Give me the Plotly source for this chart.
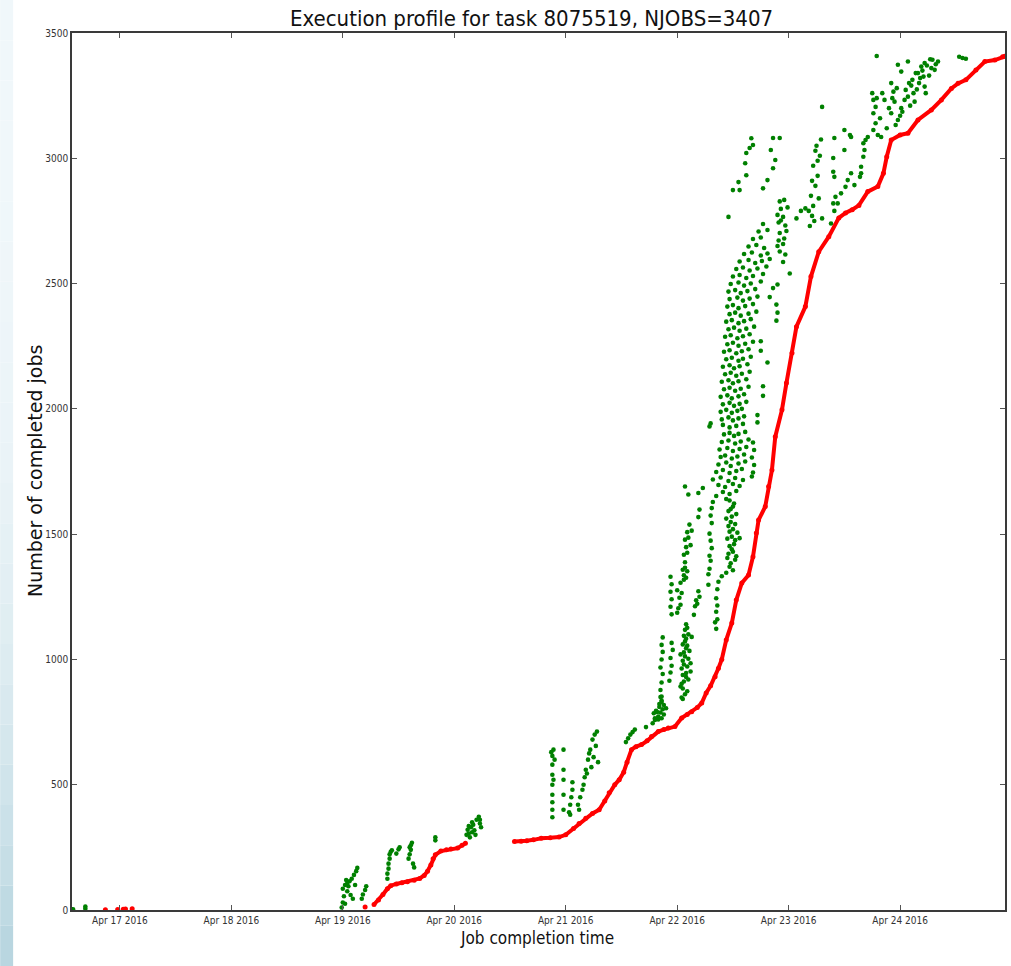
import pandas as pd
import plotly.graph_objects as go

# ---- data: day-of-April (fractional) and job counts ----
# completion profile (red): cumulative number of completed jobs
red_early_day = [16.87, 16.98, 17.03, 17.05, 17.11]
red_early_jobs = [1, 2, 3, 4, 5]

red_first_day = [19.20]
red_first_jobs = [12]

red_mid_day = [19.28, 19.32, 19.36, 19.40, 19.43, 19.48, 19.53, 19.58, 19.64, 19.69,
               19.73, 19.76, 19.79, 19.81, 19.83, 19.88, 19.93, 19.97, 20.03, 20.07, 20.10]
red_mid_jobs = [22, 40, 62, 85, 97, 104, 109, 113, 119, 126,
                138, 155, 180, 205, 220, 235, 240, 243, 247, 258, 266]

red_main_day = [20.54, 20.60, 20.65, 20.71, 20.78, 20.86, 20.94, 21.00, 21.07, 21.12,
                21.18, 21.24, 21.30, 21.35, 21.39, 21.44, 21.48, 21.52, 21.55, 21.59,
                21.63, 21.68, 21.73, 21.77, 21.83, 21.88, 21.92, 21.98, 22.04, 22.09,
                22.13, 22.18, 22.22, 22.26, 22.30, 22.34, 22.37, 22.40, 22.44, 22.49,
                22.53, 22.58, 22.64, 22.68, 22.71, 22.73, 22.79, 22.82, 22.85, 22.88,
                22.94, 22.98, 23.03, 23.07, 23.15, 23.20, 23.27, 23.36, 23.45, 23.51,
                23.57, 23.63, 23.71, 23.80, 23.85, 23.88, 23.92, 24.00, 24.07, 24.16,
                24.28, 24.37, 24.46, 24.52, 24.59, 24.68, 24.76, 24.85, 24.92, 24.94]
red_main_jobs = [273, 274, 276, 280, 286, 288, 291, 300, 325, 345,
                 366, 385, 400, 435, 468, 500, 520, 550, 590, 640,
                 652, 660, 675, 692, 712, 720, 726, 732, 766, 780,
                 791, 808, 826, 866, 895, 931, 965, 1000, 1078, 1145,
                 1237, 1305, 1337, 1410, 1505, 1556, 1610, 1690, 1756, 1889,
                 1996, 2103, 2223, 2328, 2408, 2528, 2627, 2687, 2762, 2782,
                 2795, 2812, 2867, 2887, 2940, 3006, 3073, 3093, 3100, 3153,
                 3193, 3233, 3279, 3299, 3313, 3352, 3386, 3392, 3405, 3407]

# job start points (green): (day, job number)
green_apr16 = [(16.58, 3), (16.69, 6), (16.69, 14)]

green_apr19 = [
    (18.99, 10), (19.00, 30), (19.01, 55), (19.00, 85), (19.02, 100), (19.04, 108),
    (19.06, 115), (19.03, 120), (19.05, 95), (19.08, 125), (19.10, 140), (19.12, 155),
    (19.13, 168), (19.07, 60), (19.09, 45), (19.04, 75), (19.11, 100), (19.02, 25),
    (19.17, 45), (19.18, 62), (19.20, 80), (19.21, 95),
    (19.40, 125), (19.40, 145), (19.41, 165), (19.41, 185), (19.42, 205), (19.42, 222),
    (19.43, 232), (19.44, 238), (19.48, 225), (19.50, 242), (19.51, 250), (19.59, 205),
    (19.60, 222), (19.61, 240), (19.61, 258), (19.62, 268), (19.63, 185), (19.64, 170),
    (19.60, 250), (19.83, 278), (19.83, 290),
]

green_apr20 = [
    (20.11, 300), (20.12, 320), (20.13, 305), (20.14, 290), (20.15, 330), (20.16, 350),
    (20.17, 340), (20.18, 318), (20.19, 300), (20.20, 360), (20.22, 372), (20.23, 345),
    (20.24, 330), (20.23, 360), (20.13, 335), (20.16, 310),
    (20.88, 370), (20.88, 400), (20.88, 430), (20.88, 460), (20.88, 500), (20.88, 540),
    (20.88, 580), (20.88, 615), (20.89, 640), (20.90, 600), (20.89, 520), (20.87, 630),
    (20.98, 400), (20.98, 460), (20.98, 520), (20.98, 560), (20.98, 640),
]

green_apr21 = [
    (21.03, 390), (21.04, 420), (21.05, 450), (21.06, 480), (21.06, 510), (21.04, 380),
    (21.11, 420), (21.13, 450), (21.15, 480), (21.16, 500), (21.17, 530), (21.19, 545),
    (21.12, 400), (21.18, 560), (21.20, 600), (21.22, 640), (21.24, 680), (21.26, 700),
    (21.23, 570), (21.25, 610), (21.27, 655), (21.28, 712), (21.21, 625), (21.29, 590),
    (21.54, 670), (21.56, 685), (21.58, 700), (21.60, 710), (21.62, 720), (21.72, 730),
    (21.78, 745), (21.80, 765), (21.82, 790), (21.84, 810), (21.86, 830), (21.88, 780),
    (21.90, 805), (21.83, 760), (21.79, 785), (21.85, 850),
]

green_apr22_low = [
    (21.80, 758), (21.83, 772), (21.86, 765), (21.81, 795), (21.85, 788), (21.87, 801),
    (21.84, 822), (21.88, 818), (21.86, 836), (21.86, 852), (22.04, 848), (22.07, 861),
    (22.05, 842), (21.85, 878), (22.05, 884), (22.09, 873), (22.03, 892),
    (21.86, 908), (21.93, 915), (22.04, 903), (22.06, 912), (22.10, 920), (22.08, 930),
    (21.87, 942), (21.94, 948), (22.05, 938), (22.08, 946), (22.12, 952),
    (21.85, 968), (21.95, 975), (22.04, 964), (22.06, 980), (22.09, 972), (22.12, 985),
    (21.86, 1000), (21.94, 1006), (22.05, 995), (22.07, 1012), (22.10, 1003), (22.03, 1020),
    (21.87, 1030), (21.96, 1038), (22.06, 1028), (22.08, 1045), (22.11, 1034),
    (21.86, 1058), (21.95, 1066), (22.05, 1060), (22.07, 1072), (22.09, 1055),
    (21.87, 1088), (22.06, 1094), (22.08, 1083), (22.10, 1100), (22.13, 1090),
    (22.07, 1118), (22.09, 1126), (22.35, 1122), (22.34, 1148), (22.36, 1160), (22.08, 1140),
    (21.95, 1180), (22.00, 1186), (22.15, 1178), (22.35, 1190),
    (21.94, 1210), (22.01, 1204), (22.03, 1218), (22.16, 1212), (22.18, 1222), (22.36, 1215),
    (21.95, 1240), (22.02, 1246), (22.17, 1236), (22.20, 1250), (22.35, 1244),
    (21.94, 1270), (22.00, 1276), (22.04, 1265), (22.19, 1272), (22.36, 1280),
    (21.95, 1300), (22.03, 1306), (22.28, 1298), (22.37, 1310), (22.06, 1318),
    (21.94, 1330), (22.06, 1336), (22.08, 1326), (22.28, 1340), (22.40, 1332), (22.44, 1346),
    (22.05, 1358), (22.07, 1366), (22.09, 1352), (22.29, 1362), (22.47, 1370), (22.50, 1356),
    (22.07, 1388), (22.30, 1394), (22.48, 1384), (22.52, 1398), (22.45, 1405),
    (22.06, 1418), (22.09, 1426), (22.29, 1414), (22.46, 1422), (22.50, 1430), (22.53, 1412),
    (22.08, 1448), (22.12, 1456), (22.31, 1444), (22.47, 1452), (22.51, 1460), (22.49, 1440),
    (22.07, 1478), (22.10, 1486), (22.30, 1474), (22.45, 1482), (22.49, 1490), (22.52, 1476),
    (22.56, 1484), (22.09, 1508), (22.13, 1514), (22.29, 1502), (22.47, 1510), (22.50, 1520),
    (22.54, 1506), (22.11, 1538), (22.31, 1544), (22.46, 1532), (22.48, 1548), (22.52, 1540),
    (22.19, 1568), (22.30, 1574), (22.44, 1562), (22.49, 1570), (22.53, 1580),
    (22.20, 1598), (22.31, 1604), (22.46, 1592), (22.50, 1610), (22.48, 1600),
    (22.32, 1628), (22.47, 1634), (22.51, 1622), (22.44, 1640),
]

green_apr22_high = [
    (22.10, 1658), (22.19, 1664), (22.35, 1652), (22.41, 1668), (22.47, 1660), (22.53, 1672),
    (22.07, 1690), (22.23, 1684), (22.37, 1696), (22.43, 1688), (22.50, 1700), (22.56, 1692),
    (22.32, 1718), (22.39, 1726), (22.46, 1712), (22.52, 1724), (22.59, 1716), (22.67, 1730),
    (22.35, 1748), (22.41, 1756), (22.47, 1744), (22.53, 1752), (22.58, 1760), (22.68, 1746),
    (22.37, 1778), (22.44, 1786), (22.48, 1772), (22.55, 1782), (22.61, 1790), (22.69, 1776),
    (22.39, 1808), (22.43, 1814), (22.49, 1802), (22.54, 1810), (22.60, 1818), (22.67, 1806),
    (22.38, 1838), (22.45, 1844), (22.50, 1832), (22.56, 1840), (22.62, 1848), (22.69, 1836),
    (22.40, 1868), (22.46, 1874), (22.52, 1862), (22.57, 1870), (22.64, 1878), (22.68, 1866),
    (22.42, 1898), (22.47, 1904), (22.51, 1892), (22.55, 1900), (22.61, 1908),
    (22.29, 1930), (22.41, 1936), (22.47, 1926), (22.53, 1932), (22.59, 1940), (22.72, 1946),
    (22.30, 1942), (22.40, 1958), (22.46, 1966), (22.50, 1954), (22.55, 1962), (22.60, 1970),
    (22.72, 1975), (22.39, 1988), (22.44, 1996), (22.49, 1984), (22.54, 1992), (22.58, 2000),
    (22.41, 2018), (22.47, 2024), (22.51, 2012), (22.56, 2020), (22.62, 2028),
    (22.39, 2048), (22.45, 2054), (22.49, 2042), (22.55, 2050), (22.60, 2058), (22.77, 2052),
    (22.42, 2078), (22.47, 2084), (22.52, 2072), (22.57, 2080), (22.64, 2088), (22.77, 2090),
    (22.40, 2108), (22.46, 2114), (22.50, 2102), (22.55, 2110), (22.62, 2118),
    (22.43, 2138), (22.48, 2144), (22.53, 2132), (22.58, 2140), (22.65, 2148),
    (22.41, 2168), (22.47, 2174), (22.51, 2162), (22.56, 2170), (22.63, 2178), (22.81, 2185),
    (22.44, 2198), (22.49, 2204), (22.55, 2192), (22.59, 2200), (22.66, 2208),
    (22.42, 2228), (22.47, 2234), (22.53, 2222), (22.58, 2230), (22.64, 2238), (22.75, 2232),
    (22.45, 2258), (22.50, 2264), (22.55, 2252), (22.61, 2260), (22.68, 2268), (22.75, 2270),
    (22.43, 2288), (22.48, 2294), (22.54, 2282), (22.59, 2290), (22.65, 2298),
    (22.46, 2318), (22.51, 2324), (22.56, 2312), (22.62, 2320), (22.69, 2328),
    (22.44, 2348), (22.49, 2354), (22.55, 2342), (22.60, 2350), (22.66, 2358), (22.89, 2352),
    (22.47, 2378), (22.52, 2384), (22.57, 2372), (22.64, 2380), (22.71, 2388), (22.90, 2384),
    (22.45, 2408), (22.50, 2414), (22.55, 2402), (22.61, 2410), (22.68, 2418), (22.89, 2416),
    (22.47, 2438), (22.54, 2444), (22.59, 2432), (22.65, 2440), (22.72, 2448), (22.83, 2446),
    (22.46, 2468), (22.52, 2474), (22.57, 2462), (22.63, 2470), (22.70, 2478), (22.86, 2482),
    (22.48, 2498), (22.55, 2504), (22.60, 2492), (22.66, 2500), (22.75, 2508), (22.90, 2496),
    (22.50, 2528), (22.56, 2534), (22.62, 2522), (22.68, 2530), (22.77, 2538), (23.01, 2540),
    (22.53, 2558), (22.59, 2564), (22.65, 2552), (22.72, 2560), (22.80, 2568),
    (22.56, 2588), (22.64, 2594), (22.70, 2582), (22.76, 2590), (22.83, 2598), (22.95, 2586),
    (22.60, 2618), (22.67, 2624), (22.75, 2612), (22.81, 2620), (22.92, 2628), (22.97, 2616),
    (22.64, 2648), (22.71, 2654), (22.78, 2642), (22.90, 2650), (22.95, 2658),
    (22.68, 2678), (22.75, 2684), (22.91, 2672), (22.96, 2680),
    (22.73, 2708), (22.81, 2714), (22.92, 2702), (22.98, 2710),
    (22.77, 2738), (22.91, 2744), (22.97, 2732), (22.93, 2752),
    (22.46, 2766), (22.90, 2774), (22.95, 2766), (22.93, 2798), (22.99, 2804),
    (22.92, 2828), (22.96, 2834), (22.50, 2873), (22.56, 2873), (22.55, 2905),
    (22.62, 2932), (22.61, 2980), (22.62, 3021), (22.65, 3041), (22.68, 3053), (22.665, 3080),
    (22.77, 2880), (22.81, 2913), (22.86, 2960), (22.88, 2993), (22.84, 3033),
    (22.86, 3081), (22.92, 3081),
]

green_apr23 = [
    (23.07, 2760), (23.11, 2790), (23.15, 2800),
    (23.19, 2730), (23.21, 2770), (23.22, 2810), (23.20, 2850), (23.24, 2890), (23.26, 2930),
    (23.22, 2970), (23.28, 3010), (23.25, 3050), (23.29, 3075), (23.30, 2760), (23.18, 2790),
    (23.23, 2750), (23.27, 2840), (23.21, 2910), (23.26, 2990), (23.24, 3030),
    (23.38, 2740), (23.41, 2790), (23.40, 2820), (23.30, 3205),
    (23.41, 3081), (23.40, 3001), (23.40, 2946), (23.41, 2926), (23.42, 2846), (23.44, 2820),
    (23.50, 3113), (23.55, 3093), (23.56, 3085), (23.50, 3033), (23.56, 2940), (23.53, 2913),
    (23.51, 2886), (23.59, 2893), (23.47, 2860),
    (23.67, 3060), (23.68, 3033), (23.67, 3006), (23.65, 2966), (23.65, 2940), (23.69, 3073),
    (23.71, 3085), (23.64, 2926),
    (23.75, 3260), (23.76, 3233), (23.78, 3205), (23.76, 3180), (23.78, 3140), (23.76, 3113),
    (23.80, 3093), (23.83, 3085), (23.84, 3260), (23.86, 3233), (23.79, 3408),
    (23.82, 3160), (23.79, 3240), (23.88, 3120), (23.90, 3200), (23.93, 3240), (23.97, 3280),
]

green_apr24 = [
    (23.92, 3300), (23.94, 3266), (23.95, 3226), (23.92, 3180), (23.98, 3153), (23.96, 3133),
    (24.01, 3200), (24.04, 3233), (24.02, 3186), (24.05, 3273), (24.08, 3300), (24.07, 3246),
    (24.13, 3226), (24.11, 3313), (24.16, 3340), (24.19, 3366), (24.22, 3380), (24.21, 3326),
    (24.22, 3286), (24.23, 3260), (24.29, 3393), (24.31, 3353), (24.34, 3386), (24.17, 3300),
    (23.98, 3373), (24.01, 3346), (24.07, 3386), (24.10, 3290), (24.12, 3260), (24.14, 3340),
    (24.18, 3320), (24.20, 3350), (24.24, 3370), (24.26, 3330), (24.09, 3210), (24.00, 3170),
    (24.15, 3275), (24.27, 3395), (24.32, 3375), (24.28, 3360),
    (24.53, 3405), (24.56, 3400), (24.59, 3397),
]

x_tick_days = [17, 18, 19, 20, 21, 22, 23, 24]
y_ticks = [0, 500, 1000, 1500, 2000, 2500, 3000, 3500]

TITLE = "Execution profile for task 8075519, NJOBS=3407"
X_LABEL = "Job completion time"
Y_LABEL = "Number of completed jobs"


def to_time(day):
    """Fractional day of April 2016 -> timestamp (None stays a gap)."""
    if day is None:
        return None
    return pd.Timestamp("2016-04-01") + pd.Timedelta(days=day - 1)


# ---- assemble traces ----
green_all = (green_apr16 + green_apr19 + green_apr20 + green_apr21 +
             green_apr22_low + green_apr22_high + green_apr23 + green_apr24)
gx = [to_time(d) for d, _ in green_all]
gy = [j for _, j in green_all]

red_line_day = red_mid_day + [None] + red_main_day
red_line_jobs = red_mid_jobs + [None] + red_main_jobs

fig = go.Figure()
fig.add_trace(go.Scatter(
    x=gx, y=gy, mode="markers",
    marker=dict(color="#008000", size=4.6, line=dict(width=0)),
    hoverinfo="skip"))
fig.add_trace(go.Scatter(
    x=[to_time(d) for d in red_line_day], y=red_line_jobs,
    mode="lines+markers", connectgaps=False,
    line=dict(color="#ff0000", width=4),
    marker=dict(color="#ff0000", size=5, line=dict(width=0)),
    hoverinfo="skip"))
fig.add_trace(go.Scatter(
    x=[to_time(d) for d in red_early_day + red_first_day],
    y=red_early_jobs + red_first_jobs, mode="markers",
    marker=dict(color="#ff0000", size=5, line=dict(width=0)),
    hoverinfo="skip"))

# ---- figure geometry ----
W, H = 1011, 966
L, R, T, B = 72, 4, 33, 56
pw, ph = W - L - R, H - T - B


def px_x(x):
    return (x - L) / pw


def px_y(y):
    return (H - B - y) / ph


axis_common = dict(
    showline=True, linecolor="#3a3a3a", linewidth=1.5, mirror="allticks",
    ticks="inside", ticklen=5, tickwidth=1, tickcolor="#555555",
    showgrid=False, zeroline=False,
    tickfont=dict(family="DejaVu Sans Condensed, Liberation Sans Narrow, sans-serif",
                  size=10, color="#333333"),
)

fig.update_layout(
    width=W, height=H, autosize=False,
    margin=dict(l=L, r=R, t=T, b=B, pad=0),
    paper_bgcolor="white", plot_bgcolor="white",
    showlegend=False,
    xaxis=dict(type="date",
               range=[to_time(16.5703), to_time(24.941)],
               tickvals=[to_time(d) for d in x_tick_days],
               tickformat="%b %d %Y", **axis_common),
    yaxis=dict(range=[0, 3500], tickvals=y_ticks, **axis_common),
)

# light blue strip along the left edge
top_rgb = (240, 247, 250)
bot_rgb = (181, 212, 222)
strip = []
for i in range(24):
    y0 = i * H / 24
    y1 = (i + 1) * H / 24
    t = ((y0 + y1) / 2 / H) ** 3
    c = tuple(round(a + (b - a) * t) for a, b in zip(top_rgb, bot_rgb))
    strip.append(dict(type="rect", xref="paper", yref="paper", layer="below",
                      x0=px_x(0), x1=px_x(13), y0=px_y(y1), y1=px_y(y0),
                      line=dict(width=0), fillcolor="rgb(%d,%d,%d)" % c))
fig.update_layout(shapes=strip)

cond = "DejaVu Sans Condensed, Liberation Sans Narrow, sans-serif"
fig.add_annotation(text=TITLE, xref="paper", yref="paper",
                   x=px_x(532.5), y=px_y(19), xanchor="center", yanchor="middle",
                   showarrow=False, font=dict(family=cond, size=22, color="#111111"))
fig.add_annotation(text=X_LABEL, xref="paper", yref="paper",
                   x=px_x(538), y=px_y(938), xanchor="center", yanchor="middle",
                   showarrow=False, font=dict(family=cond, size=17, color="#111111"))
fig.add_annotation(text=Y_LABEL, xref="paper", yref="paper", textangle=-90,
                   x=px_x(35), y=px_y(471), xanchor="center", yanchor="middle",
                   showarrow=False,
                   font=dict(family="DejaVu Sans, sans-serif", size=19, color="#111111"))

fig.write_html("out.html")
